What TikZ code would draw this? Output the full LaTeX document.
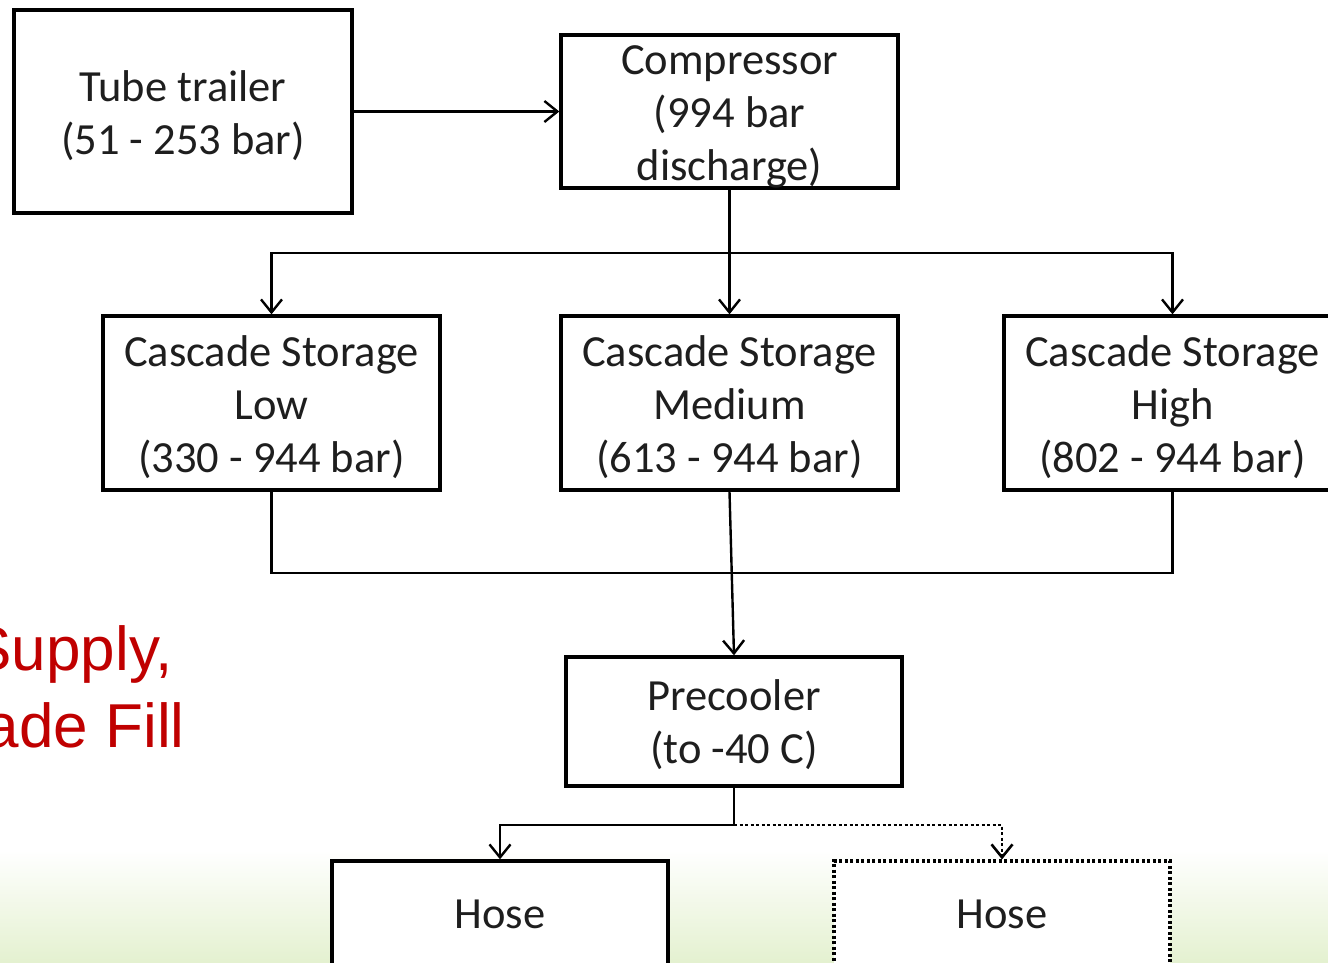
\documentclass[tikz,border=0pt]{standalone}
\usepackage{fontspec}
\setmainfont{Carlito}
\newfontfamily\redfont{Liberation Sans}
\usetikzlibrary{arrows.meta}
\definecolor{bgreen}{RGB}{228,241,208}
\definecolor{redc}{RGB}{192,0,0}
\definecolor{txt}{RGB}{30,30,30}
\newcommand\dnstrut[1]{\rule{0pt}{#1}}
\begin{document}
\begin{tikzpicture}[x=1pt,y=-1pt,
  box/.style={draw=black, line width=3.4pt, inner sep=0pt, align=center, fill=white,
    font=\fontsize{44.5}{53}\selectfont, text=txt},
  dotbox/.style={box, line width=3.2pt, dash pattern=on 3pt off 2.5pt},
  conn/.style={draw=black, line width=2.4pt},
  arr/.style={conn, -{Straight Barb[length=13pt,width=21pt]}},
  dotarr/.style={conn, line width=2.6pt, dash pattern=on 3pt off 2.5pt, -{Straight Barb[length=13pt,width=21pt]}}]
\useasboundingbox (0,0) rectangle (1328,962);
\fill[white] (0,0) rectangle (1328,962);
\shade[top color=white, bottom color=bgreen] (0,850) rectangle (1328,962);

\node[box, minimum width=338pt, minimum height=203pt] (tube) at (183,111.5) {\dnstrut{39pt}Tube trailer\\(51 - 253 bar)};
\node[box, minimum width=337pt, minimum height=151pt] (comp) at (729.5,111.5) {\dnstrut{39pt}Compressor\\(994 bar\\discharge)};
\node[box, minimum width=337pt, minimum height=174pt] (low) at (271.5,403) {\dnstrut{39pt}Cascade Storage\\Low\\(330 - 944 bar)};
\node[box, minimum width=337pt, minimum height=174pt] (med) at (729.5,403) {\dnstrut{39pt}Cascade Storage\\Medium\\(613 - 944 bar)};
\node[box, minimum width=337pt, minimum height=174pt] (high) at (1172.5,403) {\dnstrut{39pt}Cascade Storage\\High\\(802 - 944 bar)};
\node[box, minimum width=336pt, minimum height=129pt] (pre) at (734,721.5) {\dnstrut{37pt}Precooler\\(to -40 C)};
\node[box, minimum width=336pt, minimum height=106pt] (hose1) at (500,914) {Hose};
\node[dotbox, minimum width=336pt, minimum height=106pt] (hose2) at (1002,914) {Hose};

\node[anchor=base east, inner sep=0pt, text=redc, font=\redfont\fontsize{62}{77}\selectfont] (s1) at (173,670) {Supply,};
\node[anchor=base east, inner sep=0pt, text=redc, font=\redfont\fontsize{62}{77}\selectfont] (s2) at (185,747) {ade Fill};

\coordinate (br) at (729.5,253);
\coordinate (jn) at (731,573);
\coordinate (hs) at (734,825);

\draw[arr] (tube.east) -- (comp.west);
\draw[arr] (comp.south) -- (med.north);
\draw[arr] (br) -| (low.north);
\draw[arr] (br) -| (high.north);
\draw[conn] (low.south) |- (jn) -| (high.south);
\draw[arr] (med.south) -- (pre.north);
\draw[conn] (pre.south) -- (hs);
\draw[arr] (hs) -| (hose1.north);
\draw[dotarr] (hs) -| (hose2.north);
\end{tikzpicture}
\end{document}
